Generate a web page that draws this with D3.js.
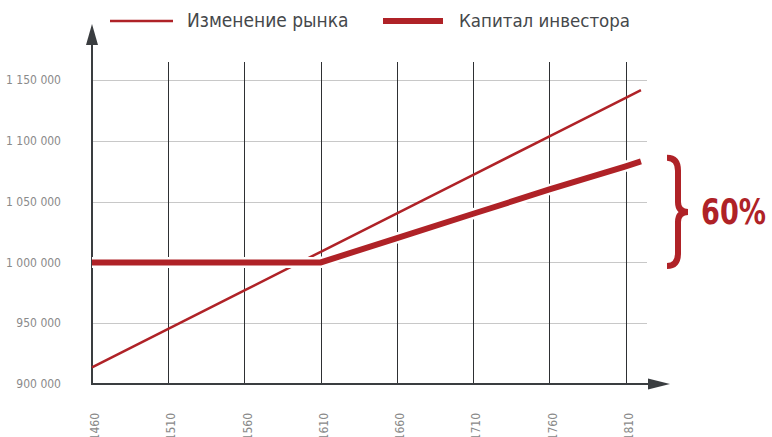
<!DOCTYPE html>
<html>
<head>
<meta charset="utf-8">
<script src="https://cdn.jsdelivr.net/npm/d3@7"></script>
<style>
  body { margin: 0; background: #fff; }
  svg { display: block; font-family: "DejaVu Sans Condensed", "DejaVu Sans", sans-serif; }
</style>
</head>
<body>
<svg id="chart" width="772" height="437"></svg>
<script>
// ---- data ----
const xTicks = [1460, 1510, 1560, 1610, 1660, 1710, 1760, 1810];
const yTicks = [900000, 950000, 1000000, 1050000, 1100000, 1150000];

const marketYears = [1460, 1510, 1560, 1610, 1660, 1710, 1760, 1810, 1820];
const marketValues = [913700, 945400, 977000, 1008700, 1040300, 1072000, 1103700, 1135300, 1141600];

const investorYears = [1460, 1510, 1560, 1610, 1660, 1710, 1760, 1810, 1820];
const investorValues = [1000000, 1000000, 1000000, 1000000, 1020000, 1040000, 1060000, 1079000, 1083000];

const seriesNames = ["Изменение рынка", "Капитал инвестора"];
const braceRange = [997000, 1086000];
const braceLabel = "60%";

// ---- chart ----
const red = "#af2227";
const axisColor = "#3a3d40";

const svg = d3.select("#chart");

const x = d3.scaleLinear().domain([1460, 1810]).range([92, 625.7]);
const y = d3.scaleLinear().domain([900000, 1150000]).range([384, 80]);

const fmt = v => d3.format(",")(v).replace(/,/g, " ");

// horizontal grid
svg.append("g")
  .selectAll("line")
  .data(yTicks.slice(1))
  .join("line")
  .attr("x1", x(1460)).attr("x2", 647)
  .attr("y1", d => Math.round(y(d)) + 0.5).attr("y2", d => Math.round(y(d)) + 0.5)
  .attr("stroke", "#c8c8c8").attr("stroke-width", 1);

// vertical grid
svg.append("g")
  .selectAll("line")
  .data(xTicks.slice(1))
  .join("line")
  .attr("x1", d => Math.round(x(d)) + 0.5).attr("x2", d => Math.round(x(d)) + 0.5)
  .attr("y1", 62).attr("y2", y(900000))
  .attr("stroke", "#2e3033").attr("stroke-width", 1);

// y labels
svg.append("g")
  .selectAll("text")
  .data(yTicks)
  .join("text")
  .attr("x", 61)
  .attr("y", d => y(d))
  .attr("dy", "0.35em")
  .attr("text-anchor", "end")
  .attr("font-size", 12)
  .attr("fill", "#8a8a8a")
  .text(fmt);

// x labels (rotated, cut by the bottom edge like the original)
svg.append("g")
  .selectAll("text")
  .data(xTicks)
  .join("text")
  .attr("transform", d => `translate(${x(d) + 3},413) rotate(-90)`)
  .attr("dy", "0.35em")
  .attr("text-anchor", "end")
  .attr("font-size", 12)
  .attr("fill", "#8a8a8a")
  .text(d => d);

// axes with arrows
svg.append("line")
  .attr("x1", x(1460)).attr("x2", x(1460))
  .attr("y1", y(900000) + 1).attr("y2", 44)
  .attr("stroke", axisColor).attr("stroke-width", 2);
svg.append("path")
  .attr("d", `M${x(1460) - 6},45 L${x(1460)},24 L${x(1460) + 6},45 Z`)
  .attr("fill", axisColor);

svg.append("line")
  .attr("x1", x(1460)).attr("x2", 649)
  .attr("y1", y(900000)).attr("y2", y(900000))
  .attr("stroke", axisColor).attr("stroke-width", 2);
svg.append("path")
  .attr("d", `M648,${y(900000) - 5.5} L670,${y(900000)} L648,${y(900000) + 5.5} Z`)
  .attr("fill", axisColor);

// lines
const line = d3.line().x(d => x(d[0])).y(d => y(d[1]));

const market = marketYears.map((yr, i) => [yr, marketValues[i]]);
const investor = investorYears.map((yr, i) => [yr, investorValues[i]]);

svg.append("path")
  .datum(market)
  .attr("d", line)
  .attr("fill", "none")
  .attr("stroke", red)
  .attr("stroke-width", 2.5);

svg.append("path")
  .datum(investor)
  .attr("d", line)
  .attr("fill", "none")
  .attr("stroke", "#fff")
  .attr("stroke-width", 11);

svg.append("path")
  .datum(investor)
  .attr("d", line)
  .attr("fill", "none")
  .attr("stroke", red)
  .attr("stroke-width", 6);

// legend
const legend = svg.append("g");
legend.append("line")
  .attr("x1", 110).attr("x2", 173).attr("y1", 21).attr("y2", 21)
  .attr("stroke", red).attr("stroke-width", 2.5);
legend.append("text")
  .attr("x", 187).attr("y", 27)
  .attr("font-size", 19).attr("fill", "#45484b")
  .text(seriesNames[0]);
legend.append("line")
  .attr("x1", 383).attr("x2", 443).attr("y1", 21).attr("y2", 21)
  .attr("stroke", red).attr("stroke-width", 6);
legend.append("text")
  .attr("x", 459).attr("y", 27)
  .attr("font-size", 18.5).attr("fill", "#45484b")
  .text(seriesNames[1]);

// brace annotation
const bt = y(braceRange[1]), bb = y(braceRange[0]), bm = (bt + bb) / 2;
const xl = 667, xc = 678, xp = 688;
svg.append("path")
  .attr("d", `M${xl},${bt} Q${xc},${bt} ${xc},${bt + 13} L${xc},${bm - 10} Q${xc},${bm} ${xp},${bm} Q${xc},${bm} ${xc},${bm + 10} L${xc},${bb - 13} Q${xc},${bb} ${xl},${bb}`)
  .attr("fill", "none")
  .attr("stroke", red)
  .attr("stroke-width", 6);

svg.append("text")
  .attr("x", 701).attr("y", 224)
  .attr("font-size", 35)
  .attr("font-weight", "bold")
  .attr("fill", red)
  .attr("textLength", 65)
  .attr("lengthAdjust", "spacingAndGlyphs")
  .text(braceLabel);
</script>
</body>
</html>
